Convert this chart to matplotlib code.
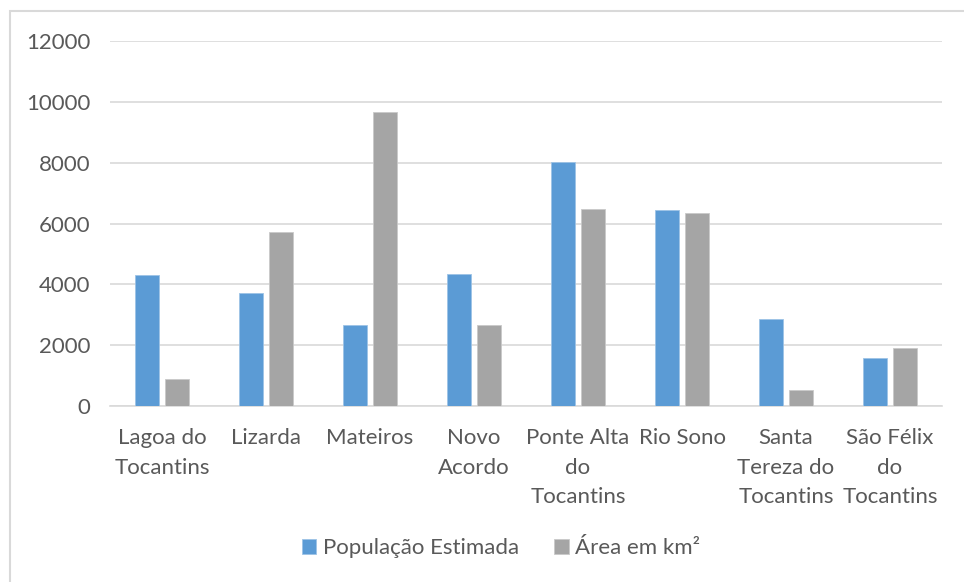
import matplotlib
matplotlib.use("Agg")
import matplotlib.pyplot as plt
from matplotlib.patches import Rectangle
import numpy as np

categories = ["Lagoa do\nTocantins", "Lizarda", "Mateiros", "Novo\nAcordo",
              "Ponte Alta\ndo\nTocantins", "Rio Sono", "Santa\nTereza do\nTocantins",
              "São Félix\ndo\nTocantins"]
populacao = [4300, 3720, 2670, 4325, 8025, 6450, 2850, 1565]
area_km2 = [900, 5715, 9665, 2660, 6470, 6340, 525, 1895]
yticks = [0, 2000, 4000, 6000, 8000, 10000, 12000]

blue = "#5b9bd5"
gray = "#a5a5a5"
text_color = "#595959"
grid_color = "#d9d9d9"

plt.rcParams["font.family"] = ["Lato", "DejaVu Sans"]

fig = plt.figure(figsize=(9.64, 5.82), dpi=100)
ax = fig.add_axes([110 / 964, 1 - 406 / 582, 832 / 964, 365 / 582])

x = np.arange(len(categories))
w = 0.23
ax.bar(x - 0.145, populacao, w, color=blue, edgecolor="#9dc3e6", linewidth=0.6,
       label="População Estimada", zorder=3)
ax.bar(x + 0.145, area_km2, w, color=gray, edgecolor="#c9c9c9", linewidth=0.6,
       label="Área em km²", zorder=3)

ax.set_xlim(-0.5, len(categories) - 0.5)
ax.set_ylim(0, 12000)
ax.set_yticks(yticks)
ax.set_yticklabels([str(v) for v in yticks])
ax.set_xticks(x)
ax.set_xticklabels(categories, linespacing=1.6, va="top")
ax.tick_params(axis="both", length=0, labelsize=16, labelcolor=text_color)
ax.tick_params(axis="y", pad=14)
ax.tick_params(axis="x", pad=16)
ax.grid(axis="y", color=grid_color, linewidth=1.2, zorder=0)
for s in ["top", "right", "left"]:
    ax.spines[s].set_visible(False)
ax.spines["bottom"].set_color(grid_color)
ax.spines["bottom"].set_linewidth(1.2)

leg = fig.legend(loc="center", bbox_to_anchor=(501 / 964, 1 - 548 / 582), ncol=2,
                 frameon=False, fontsize=16, handlelength=0.65, handleheight=0.65,
                 handletextpad=0.3, columnspacing=1.6)
for t in leg.get_texts():
    t.set_color(text_color)

fig.patches.append(Rectangle((10 / 964, -0.05), 1.1, 1 - 11 / 582 + 0.05,
                             transform=fig.transFigure, fill=False,
                             edgecolor=grid_color, linewidth=1.5))

fig.savefig("out.png", dpi=100)
